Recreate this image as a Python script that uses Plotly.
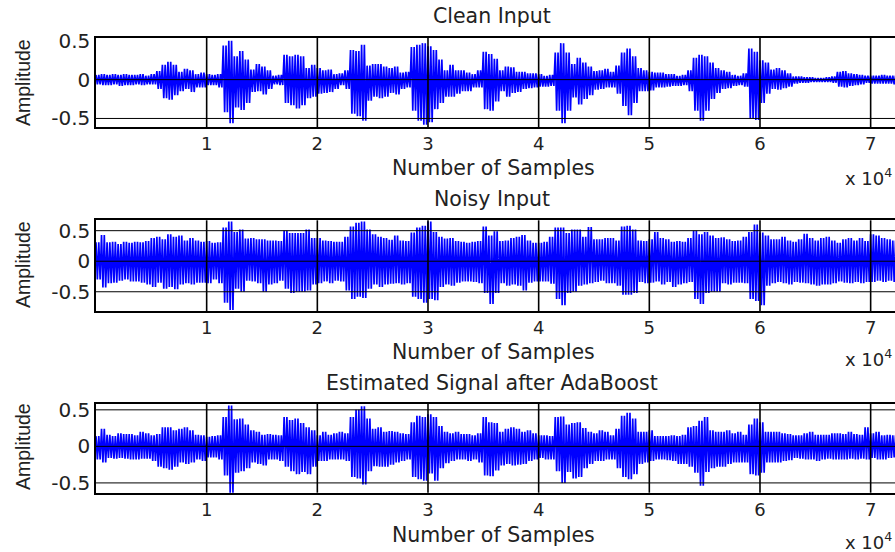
import plotly.graph_objects as go

W, H = 895, 552
BLUE = "#0000ff"
FONT = "DejaVu Sans"

titles = ["Clean Input", "Noisy Input", "Estimated Signal after AdaBoost"]
x_label = "Number of Samples"
y_label = "Amplitude"
x_ticks = [1, 2, 3, 4, 5, 6, 7]
y_ticks = [-0.5, 0, 0.5]
y_tick_text = ["-0.5", "0", "0.5"]
y_grids = [[-0.5, 0], [-0.5, 0, 0.5], [-0.5, 0, 0.5]]
x_step = 0.05  # units of 10^4 samples between envelope columns

clean_top = [.06,.07,.06,.07,.06,.07,.06,.06,.07,.05,.07,.11,.19,.23,.19,.10,.14,.12,.07,.09,
 .07,.06,.07,.44,.50,.30,.37,.26,.13,.20,.17,.12,.05,.06,.32,.30,.32,.30,.15,.19,
 .15,.12,.13,.07,.08,.12,.38,.37,.45,.18,.20,.20,.17,.15,.17,.09,.10,.42,.45,.47,
 .43,.38,.26,.12,.19,.12,.12,.09,.07,.12,.36,.33,.27,.12,.17,.16,.10,.10,.08,.08,
 .07,.05,.06,.35,.47,.35,.20,.28,.22,.17,.11,.12,.14,.10,.18,.35,.40,.30,.15,.12,
 .10,.09,.09,.07,.07,.05,.06,.12,.28,.32,.30,.22,.15,.12,.10,.06,.05,.08,.40,.36,
 .25,.22,.13,.15,.12,.08,.04,.04,.03,.03,.02,.02,.03,.04,.10,.11,.08,.07,.06,.05,
 .05,.05,.06,.05,.05]
clean_bot = [-.06,-.07,-.07,-.06,-.08,-.07,-.07,-.06,-.07,-.06,-.06,-.12,-.24,-.26,-.20,-.15,-.12,-.16,-.10,-.10,
 -.07,-.07,-.10,-.42,-.56,-.36,-.39,-.30,-.16,-.15,-.19,-.12,-.06,-.07,-.30,-.33,-.37,-.33,-.24,-.22,
 -.18,-.17,-.16,-.12,-.07,-.12,-.44,-.47,-.53,-.27,-.22,-.24,-.22,-.17,-.19,-.12,-.10,-.40,-.53,-.58,
 -.55,-.38,-.30,-.22,-.22,-.18,-.15,-.15,-.10,-.10,-.38,-.40,-.28,-.15,-.22,-.17,-.16,-.12,-.11,-.10,
 -.09,-.09,-.08,-.40,-.56,-.40,-.23,-.32,-.25,-.20,-.13,-.12,-.10,-.10,-.18,-.34,-.46,-.30,-.15,-.15,
 -.14,-.10,-.10,-.09,-.08,-.08,-.07,-.15,-.40,-.53,-.40,-.25,-.17,-.12,-.11,-.08,-.07,-.09,-.50,-.52,
 -.30,-.18,-.12,-.13,-.11,-.09,-.05,-.04,-.04,-.03,-.03,-.03,-.03,-.04,-.09,-.10,-.08,-.07,-.06,-.04,
 -.05,-.05,-.05,-.05,-.06]

noisy_top = [.31,.43,.31,.32,.28,.32,.30,.32,.31,.33,.38,.40,.36,.44,.40,.42,.34,.38,.34,.32,
 .33,.30,.31,.55,.65,.48,.52,.37,.38,.36,.36,.34,.34,.33,.50,.46,.46,.46,.52,.38,
 .38,.34,.33,.32,.32,.40,.57,.63,.65,.52,.44,.40,.38,.35,.42,.34,.33,.47,.55,.58,
 .65,.48,.40,.37,.38,.33,.32,.30,.32,.33,.57,.42,.49,.33,.34,.38,.40,.43,.34,.30,
 .30,.32,.40,.55,.55,.46,.52,.52,.40,.56,.36,.36,.38,.38,.34,.57,.58,.52,.34,.33,
 .36,.48,.38,.36,.32,.33,.32,.38,.50,.44,.48,.42,.38,.39,.36,.33,.34,.40,.48,.60,
 .47,.42,.36,.36,.40,.34,.32,.36,.45,.38,.34,.38,.40,.34,.30,.36,.38,.34,.38,.33,
 .44,.42,.38,.36,.34]
noisy_bot = [-.30,-.43,-.36,-.35,-.32,-.30,-.33,-.33,-.35,-.38,-.42,-.35,-.45,-.42,-.46,-.38,-.36,-.38,-.35,-.35,
 -.36,-.30,-.36,-.68,-.80,-.45,-.50,-.32,-.33,-.36,-.50,-.38,-.36,-.32,-.45,-.52,-.50,-.50,-.48,-.38,
 -.36,-.33,-.36,-.32,-.33,-.48,-.62,-.58,-.60,-.45,-.38,-.42,-.38,-.37,-.36,-.38,-.36,-.58,-.62,-.68,
 -.62,-.64,-.42,-.38,-.40,-.35,-.33,-.33,-.34,-.36,-.52,-.70,-.52,-.36,-.40,-.38,-.40,-.48,-.35,-.33,
 -.33,-.33,-.37,-.62,-.72,-.52,-.50,-.40,-.38,-.36,-.34,-.32,-.36,-.36,-.40,-.55,-.55,-.52,-.34,-.36,
 -.35,-.33,-.38,-.34,-.42,-.38,-.36,-.34,-.62,-.70,-.52,-.50,-.50,-.36,-.38,-.35,-.35,-.36,-.62,-.65,
 -.72,-.40,-.36,-.34,-.36,-.38,-.34,-.35,-.36,-.38,-.40,-.38,-.38,-.36,-.33,-.35,-.36,-.34,-.36,-.34,
 -.34,-.32,-.34,-.32,-.34]

est_top = [.14,.24,.16,.14,.18,.17,.17,.15,.20,.18,.15,.17,.26,.26,.22,.24,.26,.22,.16,.15,
 .13,.14,.15,.40,.56,.37,.38,.30,.22,.20,.16,.17,.16,.15,.40,.36,.38,.32,.26,.22,
 .15,.20,.16,.18,.20,.18,.40,.50,.55,.38,.24,.26,.20,.21,.20,.18,.17,.33,.42,.40,
 .44,.40,.28,.20,.18,.20,.17,.17,.15,.18,.40,.33,.32,.20,.24,.26,.24,.20,.22,.18,
 .15,.15,.14,.40,.41,.30,.32,.33,.25,.20,.18,.22,.20,.15,.24,.42,.46,.38,.20,.20,
 .22,.14,.14,.14,.15,.14,.16,.26,.28,.35,.40,.22,.20,.20,.22,.18,.20,.16,.30,.38,
 .33,.20,.20,.20,.18,.17,.15,.15,.18,.20,.16,.16,.16,.18,.18,.17,.20,.17,.16,.26,
 .18,.20,.15,.16,.15]
est_bot = [-.18,-.22,-.16,-.17,-.16,-.17,-.18,-.18,-.17,-.17,-.20,-.28,-.30,-.32,-.28,-.22,-.24,-.22,-.18,-.20,
 -.15,-.15,-.18,-.40,-.64,-.36,-.34,-.30,-.22,-.24,-.26,-.18,-.18,-.20,-.28,-.34,-.38,-.35,-.38,-.28,
 -.20,-.20,-.18,-.18,-.18,-.20,-.42,-.44,-.52,-.34,-.27,-.28,-.28,-.25,-.22,-.20,-.18,-.42,-.45,-.47,
 -.37,-.47,-.30,-.23,-.20,-.18,-.18,-.20,-.18,-.22,-.40,-.41,-.33,-.26,-.24,-.26,-.25,-.24,-.20,-.18,
 -.16,-.18,-.18,-.34,-.50,-.35,-.44,-.42,-.30,-.24,-.20,-.20,-.18,-.18,-.30,-.42,-.45,-.38,-.24,-.22,
 -.20,-.18,-.18,-.19,-.20,-.24,-.24,-.28,-.36,-.54,-.35,-.30,-.28,-.28,-.24,-.22,-.22,-.22,-.38,-.40,
 -.36,-.22,-.22,-.22,-.20,-.19,-.16,-.17,-.18,-.18,-.20,-.18,-.17,-.18,-.18,-.18,-.17,-.18,-.17,-.18,
 -.16,-.18,-.18,-.16,-.15]

series = [(clean_top, clean_bot), (noisy_top, noisy_bot), (est_top, est_bot)]
y_ranges = [(-0.61, 0.54), (-0.815, 0.67), (-0.634, 0.584)]
panel_px = [(37.7, 127), (220.3, 311), (403.7, 492.7)]
x_range = (0, 7.22)
left_px = 96
title_y = [16, 199, 383]
xlabel_y = [168, 352, 535]
power_y = [180, 361, 544]
ylabel_y = [83, 265, 447]


def px(x):
    return x / W


def py(y):
    return 1 - y / H


def note(text, x, y, size, family=FONT, **kw):
    d = dict(text=text, x=px(x), y=py(y), xref="paper", yref="paper", showarrow=False,
             xanchor="center", yanchor="middle", font=dict(family=family, size=size, color="#222"))
    d.update(kw)
    return d


fig = go.Figure()
shapes, annotations = [], []
for i, (top, bot) in enumerate(series):
    s = "" if i == 0 else str(i + 1)
    xs, ys = [], []
    for k, (a, b) in enumerate(zip(top, bot)):
        xs += [(k + f) * x_step for f in (0, 0.25, 0.5, 0.75)]
        ys += [a, b, a, b]
    fig.add_trace(go.Scatter(x=xs, y=ys, mode="lines", xaxis="x" + s, yaxis="y" + s,
                             line=dict(color=BLUE, width=1.7), showlegend=False, hoverinfo="skip"))
    ya, yb = panel_px[i]
    fig.update_layout({
        "xaxis" + s: dict(domain=[px(left_px), 1], range=list(x_range), tickvals=x_ticks,
                          ticks="", showgrid=False, zeroline=False, showline=True, mirror=True,
                          linecolor="black", linewidth=1.5, anchor="y" + s, automargin=False,
                          tickfont=dict(family=FONT, size=18, color="#222")),
        "yaxis" + s: dict(domain=[py(yb), py(ya)], range=list(y_ranges[i]), tickvals=y_ticks,
                          ticktext=y_tick_text, ticks="", showgrid=False, zeroline=False,
                          showline=True, mirror=True, linecolor="black", linewidth=1.5,
                          anchor="x" + s, automargin=False,
                          tickfont=dict(family=FONT, size=20, color="#222")),
    })
    for v in x_ticks:
        shapes.append(dict(type="line", layer="above", xref="x" + s, yref="y" + s + " domain",
                           x0=v, x1=v, y0=0, y1=1, line=dict(color="black", width=1.6)))
    for v in y_grids[i]:
        shapes.append(dict(type="line", layer="above", xref="x" + s + " domain", yref="y" + s,
                           x0=0, x1=1, y0=v, y1=v, line=dict(color="black", width=1)))
    annotations += [
        note(titles[i], 492, title_y[i], 20.5),
        note(x_label, 493, xlabel_y[i], 20.5),
        note("x 10<sup>4</sup>", 894, power_y[i] - 3, 18, xanchor="right"),
        note(y_label, 23, ylabel_y[i], 19.5, family="Liberation Sans", textangle=-90),
    ]

fig.update_layout(width=W, height=H, margin=dict(l=0, r=0, t=0, b=0, autoexpand=False),
                  paper_bgcolor="white", plot_bgcolor="white", shapes=shapes, annotations=annotations)
fig.write_html("out.html", post_script="document.body.style.margin='0';",
               config={"displayModeBar": False})
